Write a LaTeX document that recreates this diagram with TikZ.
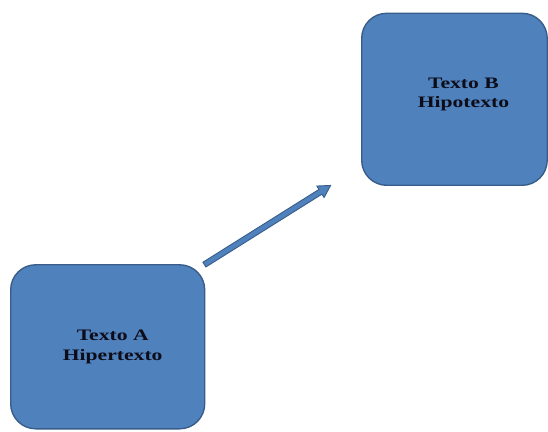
\documentclass[tikz,border=0pt]{standalone}
\usepackage{fontspec}
\setmainfont{Liberation Serif}[FakeStretch=1.35]
\usetikzlibrary{calc}
\definecolor{boxfill}{HTML}{4F81BD}
\definecolor{boxline}{HTML}{385D8A}
\definecolor{inkdark}{HTML}{0D0D1A}
\begin{document}
\begin{tikzpicture}[x=1pt,y=1pt,
  textbox/.style={draw=boxline, fill=boxfill, line width=1.4pt,
    rounded corners=25pt, inner sep=0pt, anchor=south west},
  boxlabel/.style={align=center, text=inkdark, inner sep=0pt,
    font=\fontsize{16}{19.5}\selectfont\bfseries},
  blockarrow/.style={draw=boxline, fill=boxfill, line width=0.9pt, line join=miter}]
\useasboundingbox (0,0) rectangle (548,431);
% the two text boxes
\node[textbox, minimum width=194pt, minimum height=164pt] (A) at (10,1.5) {};
\node[textbox, minimum width=185.5pt, minimum height=172pt] (B) at (361,245) {};
\node[boxlabel] (labelA) at ($(A.center)+(5,0)$) {Texto A\\Hipertexto};
\node[boxlabel] (labelB) at ($(B.center)+(9,5)$) {Texto B\\Hipotexto};
% block arrow from A towards B
\coordinate (tail) at ($(A.north east)+(-1,-0.5)$);
\coordinate (tip) at ($(B.south west)+(-32,-1.5)$);
\begin{scope}[shift={(tail)}, rotate=32.1]
  \path[blockarrow] (0,-2.8) -- (137,-2.8) -- (137,-6.8) -- (149,0)
    -- (137,6.8) -- (137,2.8) -- (0,2.8) -- cycle;
\end{scope}
\end{tikzpicture}
\end{document}
